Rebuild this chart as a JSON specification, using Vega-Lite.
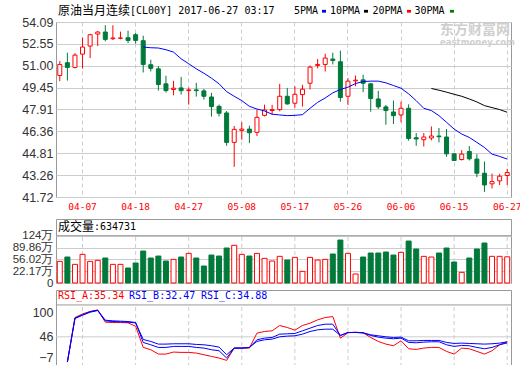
{
  "$schema": "https://vega.github.io/schema/vega-lite/v6.json",
  "background": "white",
  "padding": {"left": 0, "top": 4, "right": 0, "bottom": 0},
  "spacing": 0,
  "resolve": {"scale": {"x": "independent", "y": "independent"}},
  "config": {
    "view": {"stroke": "#999999", "strokeWidth": 1},
    "axis": {"labelFont": "Liberation Sans", "labelFontSize": 12.5, "labelColor": "#333333", "domain": false, "ticks": false, "title": null}
  },
  "datasets": {
    "k": [
      {"d":"04-04","o":50.31,"h":51.33,"l":49.91,"c":51.09,"v":50.45},
      {"d":"04-05","o":51.21,"h":51.92,"l":49.95,"c":50.88,"v":62.82,"ra":-10,"rb":-10,"rc":-10},
      {"d":"04-06","o":50.88,"h":51.89,"l":50.81,"c":51.75,"v":41.81,"ra":88.85,"rb":87.37,"rc":86.64},
      {"d":"04-07","o":51.82,"h":52.98,"l":50.81,"c":52.32,"v":70.48,"ra":96.96,"rb":94.75,"rc":94.01},
      {"d":"04-10","o":52.39,"h":53.26,"l":51.54,"c":53.19,"v":50.45,"ra":102.12,"rb":102.12,"rc":100.65},
      {"d":"04-11","o":53.24,"h":53.45,"l":52.39,"c":53.38,"v":53.3,"ra":105.81,"rb":105.08,"rc":104.34},
      {"d":"04-12","o":53.38,"h":53.86,"l":52.72,"c":52.86,"v":59.97,"ra":78.52,"rb":82.95,"rc":81.47},
      {"d":"04-13","o":52.91,"h":53.86,"l":52.82,"c":52.96,"v":41.81,"ra":77.79,"rb":81.47,"rc":80.0},
      {"d":"04-14","o":52.94,"h":53.41,"l":52.86,"c":52.96,"v":41.81,"ra":77.79,"rb":80.74,"rc":79.26},
      {"d":"04-17","o":52.98,"h":53.48,"l":52.6,"c":52.79,"v":31.3,"ra":77.05,"rb":80.0,"rc":78.52},
      {"d":"04-18","o":53.19,"h":53.31,"l":52.56,"c":52.79,"v":45.64,"ra":69.67,"rb":77.79,"rc":77.05},
      {"d":"04-19","o":52.77,"h":53.12,"l":50.52,"c":51.09,"v":80.0,"ma":52.32,"ra":22.47,"rb":33.54,"rc":40.17},
      {"d":"04-20","o":51.07,"h":51.42,"l":50.59,"c":50.81,"v":59.97,"ma":52.27,"ra":17.31,"rb":28.37,"rc":35.75},
      {"d":"04-21","o":50.78,"h":50.97,"l":49.24,"c":49.67,"v":65.66,"ma":52.25,"ra":7.72,"rb":22.47,"rc":29.85},
      {"d":"04-24","o":49.72,"h":50.29,"l":49.1,"c":49.24,"v":51.33,"ma":52.13,"ra":7.72,"rb":22.47,"rc":29.85},
      {"d":"04-25","o":49.32,"h":49.93,"l":48.91,"c":49.41,"v":56.14,"ma":51.96,"ra":12.15,"rb":24.68,"rc":30.58},
      {"d":"04-26","o":49.43,"h":50.21,"l":48.96,"c":49.24,"v":62.82,"ma":51.49,"ra":11.41,"rb":24.68,"rc":30.58},
      {"d":"04-27","o":49.24,"h":49.46,"l":48.25,"c":49.29,"v":73.32,"ma":51.14,"ra":11.41,"rb":24.68,"rc":30.58},
      {"d":"04-28","o":49.29,"h":49.79,"l":48.82,"c":49.24,"v":59.97,"ma":50.78,"ra":9.94,"rb":22.47,"rc":29.11},
      {"d":"05-01","o":49.22,"h":49.36,"l":48.61,"c":48.84,"v":36.99,"ma":50.47,"ra":6.25,"rb":21.0,"rc":28.37},
      {"d":"05-02","o":48.79,"h":49.08,"l":47.4,"c":48.11,"v":68.51,"ma":50.12,"ra":2.56,"rb":17.31,"rc":26.16},
      {"d":"05-03","o":48.13,"h":48.25,"l":47.42,"c":47.64,"v":65.66,"ma":49.72,"ra":-1.13,"rb":15.1,"rc":23.21},
      {"d":"05-04","o":47.66,"h":47.8,"l":45.34,"c":45.58,"v":88.64,"ma":49.17,"ra":-6.29,"rb":-1.13,"rc":6.25},
      {"d":"05-05","o":45.58,"h":46.74,"l":43.85,"c":46.5,"v":96.3,"ma":48.84,"ra":21.0,"rb":21.0,"rc":21.0},
      {"d":"05-08","o":46.43,"h":47.0,"l":45.77,"c":46.52,"v":70.48,"ma":48.53,"ra":21.0,"rb":21.0,"rc":21.0},
      {"d":"05-09","o":46.52,"h":46.76,"l":45.53,"c":46.26,"v":65.66,"ma":48.13,"ra":21.0,"rb":22.47,"rc":22.47},
      {"d":"05-10","o":46.29,"h":47.9,"l":46.03,"c":47.35,"v":73.32,"ma":47.94,"ra":54.19,"rb":39.44,"rc":35.75},
      {"d":"05-11","o":47.49,"h":48.25,"l":47.42,"c":47.87,"v":58.99,"ma":47.8,"ra":57.87,"rb":43.12,"rc":39.44},
      {"d":"05-12","o":47.83,"h":48.23,"l":47.54,"c":47.9,"v":51.33,"ma":47.57,"ra":59.35,"rb":44.6,"rc":40.91},
      {"d":"05-15","o":47.9,"h":49.72,"l":47.78,"c":48.84,"v":64.79,"ma":47.52,"ra":71.15,"rb":51.97,"rc":46.07},
      {"d":"05-16","o":48.84,"h":49.43,"l":48.25,"c":48.3,"v":54.17,"ma":47.47,"ra":66.72,"rb":52.71,"rc":47.55},
      {"d":"05-17","o":48.35,"h":49.55,"l":48.04,"c":48.98,"v":61.83,"ma":47.49,"ra":60.82,"rb":53.45,"rc":48.29},
      {"d":"05-18","o":48.96,"h":49.65,"l":48.11,"c":49.34,"v":21.78,"ma":47.54,"ra":71.15,"rb":59.35,"rc":51.97},
      {"d":"05-19","o":49.76,"h":51.02,"l":49.32,"c":50.9,"v":61.83,"ma":47.99,"ra":76.31,"rb":65.25,"rc":57.87},
      {"d":"05-22","o":51.02,"h":51.47,"l":50.81,"c":51.09,"v":54.17,"ma":48.41,"ra":83.69,"rb":71.15,"rc":61.56},
      {"d":"05-23","o":51.09,"h":51.85,"l":50.59,"c":51.54,"v":56.14,"ma":48.72,"ra":88.85,"rb":74.1,"rc":63.04},
      {"d":"05-24","o":51.47,"h":51.92,"l":51.09,"c":51.37,"v":71.46,"ma":49.08,"ra":91.06,"rb":74.1,"rc":63.04},
      {"d":"05-25","o":51.28,"h":52.06,"l":48.46,"c":48.75,"v":111.51,"ma":49.32,"ra":43.12,"rb":49.02,"rc":49.02},
      {"d":"05-26","o":48.84,"h":50.12,"l":48.23,"c":49.91,"v":73.32,"ma":49.48,"ra":54.92,"rb":55.66,"rc":55.66},
      {"d":"05-29","o":49.93,"h":50.31,"l":49.55,"c":49.98,"v":14.12,"ma":49.74,"ra":56.4,"rb":55.66,"rc":55.66},
      {"d":"05-30","o":50.0,"h":50.36,"l":49.13,"c":49.76,"v":62.82,"ma":49.88,"ra":54.92,"rb":54.92,"rc":54.92},
      {"d":"05-31","o":49.72,"h":49.79,"l":47.75,"c":48.68,"v":74.3,"ma":49.91,"ra":44.6,"rb":49.02,"rc":50.5},
      {"d":"06-01","o":48.65,"h":49.22,"l":47.94,"c":48.09,"v":74.3,"ma":49.91,"ra":35.75,"rb":45.34,"rc":48.29},
      {"d":"06-02","o":48.09,"h":48.23,"l":46.83,"c":47.83,"v":77.15,"ma":49.79,"ra":29.85,"rb":43.12,"rc":46.07},
      {"d":"06-05","o":47.73,"h":48.54,"l":46.88,"c":47.47,"v":68.51,"ma":49.6,"ra":26.16,"rb":41.64,"rc":44.6},
      {"d":"06-06","o":47.52,"h":48.46,"l":47.0,"c":47.99,"v":76.16,"ma":49.41,"ra":37.22,"rb":43.12,"rc":45.34},
      {"d":"06-07","o":47.99,"h":48.27,"l":45.7,"c":45.86,"v":108.66,"ma":49.01,"ra":19.52,"rb":33.54,"rc":37.22},
      {"d":"06-08","o":45.91,"h":46.24,"l":45.34,"c":45.82,"v":85.79,"ma":48.53,"ra":18.05,"rb":32.8,"rc":37.22},
      {"d":"06-09","o":45.77,"h":46.24,"l":45.29,"c":45.96,"v":64.79,"ma":47.99,"ra":21.0,"rb":34.27,"rc":37.96},
      {"d":"06-12","o":45.89,"h":46.71,"l":45.72,"c":46.03,"v":62.82,"ma":47.83,"mb":49.39,"ra":22.47,"rb":35.01,"rc":37.96},
      {"d":"06-13","o":46.03,"h":46.6,"l":45.58,"c":45.98,"v":74.3,"ma":47.47,"mb":49.27,"ra":22.47,"rb":35.01,"rc":37.96},
      {"d":"06-14","o":45.96,"h":46.52,"l":44.56,"c":44.77,"v":88.64,"ma":47.0,"mb":49.13,"ra":13.62,"rb":28.37,"rc":33.54},
      {"d":"06-15","o":44.77,"h":44.82,"l":44.28,"c":44.3,"v":48.48,"ma":46.52,"mb":48.98,"ra":7.72,"rb":24.68,"rc":31.32},
      {"d":"06-19","o":44.37,"h":45.03,"l":44.3,"c":44.75,"v":18.83,"ma":46.17,"mb":48.84,"ra":21.0,"rb":26.9,"rc":32.06},
      {"d":"06-20","o":44.94,"h":45.32,"l":44.3,"c":44.42,"v":59.97,"ma":45.93,"mb":48.65,"ra":19.52,"rb":26.16,"rc":31.32},
      {"d":"06-21","o":44.4,"h":44.75,"l":43.12,"c":43.4,"v":85.79,"ma":45.58,"mb":48.44,"ra":13.62,"rb":22.47,"rc":30.58},
      {"d":"06-22","o":43.4,"h":44.23,"l":42.08,"c":42.57,"v":102.97,"ma":45.22,"mb":48.18,"ra":7.72,"rb":19.52,"rc":29.85},
      {"d":"06-23","o":42.65,"h":43.38,"l":42.32,"c":42.81,"v":64.79,"ma":44.75,"mb":48.04,"ra":15.1,"rb":22.47,"rc":30.58},
      {"d":"06-26","o":42.86,"h":43.36,"l":42.57,"c":43.19,"v":64.79,"ma":44.59,"mb":47.9,"ra":28.37,"rb":28.37,"rc":32.06},
      {"d":"06-27","o":43.24,"h":43.71,"l":42.57,"c":43.45,"v":63.47,"ma":44.4,"mb":47.71,"ra":35.34,"rb":32.47,"rc":34.88}
    ],
    "t": [{"d":"04-07"},{"d":"04-18"},{"d":"04-27"},{"d":"05-08"},{"d":"05-17"},{"d":"05-26"},{"d":"06-06"},{"d":"06-15"},{"d":"06-27"}],
    "one": [{}]
  },
  "vconcat": [
    {
      "width": 455,
      "height": 175,
      "resolve": {"axis": {"x": "independent", "y": "independent"}},
      "layer": [
        {
          "data": {"name": "k"},
          "mark": {"type": "rule", "strokeWidth": 1},
          "encoding": {
            "x": {"field": "d", "type": "ordinal", "scale": {"paddingInner": 0, "paddingOuter": 0},
                  "axis": {"values": ["04-07","04-18","04-27","05-08","05-17","05-26","06-06","06-15","06-27"], "labelAngle": 0, "labelColor": "#ff0000", "labelFont": "DejaVu Sans Mono", "labelFontSize": 9.5, "labelPadding": 4, "labelBaseline": "top", "labelOverlap": false, "grid": true, "gridColor": "#cccccc", "gridDash": [4, 3], "bandPosition": 0.5, "minExtent": 20.3, "maxExtent": 20.3}},
            "y": {"field": "l", "type": "quantitative", "scale": {"domain": [41.72, 54.09], "nice": false, "zero": false},
                  "axis": {"values": [41.72,43.26,44.81,46.36,47.91,49.45,51.0,52.55,54.09], "format": ".2f", "labelOverlap": false, "labelSeparation": 0, "grid": true, "gridColor": "#cccccc", "labelPadding": 3, "minExtent": 55, "maxExtent": 55}},
            "y2": {"field": "h"},
            "stroke": {"condition": {"test": "datum.c >= datum.o", "value": "#ff0000"}, "value": "#00793a"}
          }
        },
        {
          "data": {"name": "k"},
          "mark": {"type": "bar", "width": 4, "strokeWidth": 1},
          "encoding": {
            "x": {"field": "d", "type": "ordinal", "axis": null},
            "y": {"field": "o", "type": "quantitative", "axis": null},
            "y2": {"field": "c"},
            "fill": {"condition": {"test": "datum.c >= datum.o", "value": "#ffffff"}, "value": "#00793a"},
            "stroke": {"condition": {"test": "datum.c >= datum.o", "value": "#ff0000"}, "value": "#00793a"}
          }
        },
        {
          "data": {"name": "k"},
          "mark": {"type": "line", "stroke": "#0000ff", "strokeWidth": 1},
          "encoding": {
            "x": {"field": "d", "type": "ordinal", "axis": null},
            "y": {"field": "ma", "type": "quantitative", "axis": null}
          }
        },
        {
          "data": {"name": "k"},
          "mark": {"type": "line", "stroke": "#000000", "strokeWidth": 1},
          "encoding": {
            "x": {"field": "d", "type": "ordinal", "axis": null},
            "y": {"field": "mb", "type": "quantitative", "axis": null}
          }
        },
        {
          "data": {"name": "one"},
          "mark": {"type": "text", "align": "left", "baseline": "middle", "font": "Noto Sans CJK SC", "fontSize": 12, "fill": "#000000", "text": "原油当月连续"},
          "encoding": {
            "x": {"datum": "04-04", "type": "ordinal", "bandPosition": 0.26, "axis": null},
            "y": {"datum": 54.85, "type": "quantitative", "axis": null}
          }
        },
        {
          "data": {"name": "one"},
          "mark": {"type": "text", "align": "left", "baseline": "middle", "font": "DejaVu Sans Mono", "fontSize": 10, "fill": "#000000", "text": "[CL00Y] 2017-06-27 03:17"},
          "encoding": {
            "x": {"datum": "04-17", "type": "ordinal", "bandPosition": 0.76, "axis": null},
            "y": {"datum": 54.85, "type": "quantitative", "axis": null}
          }
        },
        {
          "data": {"name": "one"},
          "mark": {"type": "text", "align": "left", "baseline": "middle", "font": "DejaVu Sans Mono", "fontSize": 10, "fill": "#000000", "text": "5PMA"},
          "encoding": {
            "x": {"datum": "05-17", "type": "ordinal", "bandPosition": 0.39, "axis": null},
            "y": {"datum": 54.85, "type": "quantitative", "axis": null}
          }
        },
        {
          "data": {"name": "one"},
          "mark": {"type": "text", "align": "left", "baseline": "middle", "font": "DejaVu Sans Mono", "fontSize": 10, "fill": "#000000", "text": "10PMA"},
          "encoding": {
            "x": {"datum": "05-24", "type": "ordinal", "bandPosition": 0.13, "axis": null},
            "y": {"datum": 54.85, "type": "quantitative", "axis": null}
          }
        },
        {
          "data": {"name": "one"},
          "mark": {"type": "text", "align": "left", "baseline": "middle", "font": "DejaVu Sans Mono", "fontSize": 10, "fill": "#000000", "text": "20PMA"},
          "encoding": {
            "x": {"datum": "05-31", "type": "ordinal", "bandPosition": 0.74, "axis": null},
            "y": {"datum": 54.85, "type": "quantitative", "axis": null}
          }
        },
        {
          "data": {"name": "one"},
          "mark": {"type": "text", "align": "left", "baseline": "middle", "font": "DejaVu Sans Mono", "fontSize": 10, "fill": "#000000", "text": "30PMA"},
          "encoding": {
            "x": {"datum": "06-08", "type": "ordinal", "bandPosition": 0.28, "axis": null},
            "y": {"datum": 54.85, "type": "quantitative", "axis": null}
          }
        },
        {
          "data": {"name": "one"},
          "mark": {"type": "point", "shape": "M-1,-0.7H1V0.7H-1Z", "size": 16, "filled": true, "fill": "#0000ff", "opacity": 1},
          "encoding": {
            "x": {"datum": "05-23", "type": "ordinal", "bandPosition": 0.34, "axis": null},
            "y": {"datum": 54.85, "type": "quantitative", "axis": null}
          }
        },
        {
          "data": {"name": "one"},
          "mark": {"type": "point", "shape": "M-1,-0.7H1V0.7H-1Z", "size": 16, "filled": true, "fill": "#000000", "opacity": 1},
          "encoding": {
            "x": {"datum": "05-30", "type": "ordinal", "bandPosition": 0.88, "axis": null},
            "y": {"datum": 54.85, "type": "quantitative", "axis": null}
          }
        },
        {
          "data": {"name": "one"},
          "mark": {"type": "point", "shape": "M-1,-0.7H1V0.7H-1Z", "size": 16, "filled": true, "fill": "#ff0000", "opacity": 1},
          "encoding": {
            "x": {"datum": "06-07", "type": "ordinal", "bandPosition": 0.55, "axis": null},
            "y": {"datum": 54.85, "type": "quantitative", "axis": null}
          }
        },
        {
          "data": {"name": "one"},
          "mark": {"type": "point", "shape": "M-1,-0.7H1V0.7H-1Z", "size": 16, "filled": true, "fill": "#008000", "opacity": 1},
          "encoding": {
            "x": {"datum": "06-15", "type": "ordinal", "bandPosition": 0.22, "axis": null},
            "y": {"datum": 54.85, "type": "quantitative", "axis": null}
          }
        },
        {
          "data": {"name": "one"},
          "mark": {"type": "text", "align": "left", "baseline": "middle", "font": "Noto Sans CJK SC", "fontSize": 14, "fontWeight": "bold", "fill": "#cfcfcf", "text": "东方财富网"},
          "encoding": {
            "x": {"datum": "06-13", "type": "ordinal", "bandPosition": 0.64, "axis": null},
            "y": {"datum": 53.54, "type": "quantitative", "axis": null}
          }
        },
        {
          "data": {"name": "one"},
          "mark": {"type": "text", "align": "left", "baseline": "middle", "font": "DejaVu Sans", "fontSize": 8.5, "fontWeight": "bold", "fill": "#cfcfcf", "text": "eastmoney.com"},
          "encoding": {
            "x": {"datum": "06-13", "type": "ordinal", "bandPosition": 0.64, "axis": null},
            "y": {"datum": 52.69, "type": "quantitative", "axis": null}
          }
        }
      ]
    },
    {
      "width": 455,
      "height": 64,
      "resolve": {"axis": {"x": "independent", "y": "independent"}},
      "layer": [
        {
          "data": {"name": "t"},
          "mark": {"type": "rule", "stroke": "#cccccc", "strokeDash": [4, 3], "strokeWidth": 1},
          "encoding": {
            "x": {"field": "d", "type": "ordinal", "scale": {"paddingInner": 0, "paddingOuter": 0}, "axis": null},
            "y": {"datum": -11.7, "type": "quantitative", "scale": {"domain": [-11.7, 171.9], "nice": false, "zero": false},
                  "axis": {"values": [-11.7, 22.17, 56.02, 89.86, 124], "labelExpr": "datum.value < 0 ? '0' : (datum.value == 124 ? '124万' : format(datum.value, '.2f') + '万')", "labelFontSize": 11.5, "labelOverlap": false, "labelSeparation": 0, "grid": true, "gridColor": "#cccccc", "labelPadding": 3, "minExtent": 55, "maxExtent": 55}},
            "y2": {"datum": 124}
          }
        },
        {
          "data": {"name": "k"},
          "mark": {"type": "bar", "width": 5, "strokeWidth": 1},
          "encoding": {
            "x": {"field": "d", "type": "ordinal", "axis": null},
            "y": {"field": "v", "type": "quantitative", "stack": null, "axis": null},
            "y2": {"datum": -11.7},
            "fill": {"condition": {"test": "datum.c >= datum.o", "value": "#ffffff"}, "value": "#00793a"},
            "stroke": {"condition": {"test": "datum.c >= datum.o", "value": "#ff0000"}, "value": "#00793a"}
          }
        },
        {
          "data": {"name": "one"},
          "mark": {"type": "rule", "stroke": "#999999", "strokeWidth": 1},
          "encoding": {"y": {"datum": 124, "type": "quantitative", "axis": null}}
        },
        {
          "data": {"name": "one"},
          "mark": {"type": "text", "align": "left", "baseline": "middle", "font": "Noto Sans CJK SC", "fontSize": 12, "fill": "#000000", "text": "成交量"},
          "encoding": {
            "x": {"datum": "04-04", "type": "ordinal", "bandPosition": 0.26, "axis": null},
            "y": {"datum": 149, "type": "quantitative", "axis": null}
          }
        },
        {
          "data": {"name": "one"},
          "mark": {"type": "text", "align": "left", "baseline": "middle", "font": "DejaVu Sans Mono", "fontSize": 10, "fill": "#000000", "text": ":634731"},
          "encoding": {
            "x": {"datum": "04-11", "type": "ordinal", "bandPosition": 0.01, "axis": null},
            "y": {"datum": 149, "type": "quantitative", "axis": null}
          }
        }
      ]
    },
    {
      "width": 455,
      "height": 77,
      "resolve": {"axis": {"x": "independent", "y": "independent"}},
      "layer": [
        {
          "data": {"name": "t"},
          "mark": {"type": "rule", "stroke": "#cccccc", "strokeDash": [4, 3], "strokeWidth": 1},
          "encoding": {
            "x": {"field": "d", "type": "ordinal", "scale": {"paddingInner": 0, "paddingOuter": 0}, "axis": null},
            "y": {"datum": -21, "type": "quantitative", "scale": {"domain": [-21, 150], "nice": false, "zero": false},
                  "axis": {"values": [-7, 46, 100], "format": "d", "labelOverlap": false, "labelSeparation": 0, "grid": false, "labelPadding": 3, "minExtent": 55, "maxExtent": 55,
                           "labelOffset": {"condition": {"test": "datum.value < 0", "value": -3}, "value": 0}}},
            "y2": {"datum": 116.8}
          }
        },
        {
          "data": {"name": "one"},
          "mark": {"type": "rule", "stroke": "#cccccc", "strokeWidth": 1},
          "encoding": {"y": {"datum": 46, "type": "quantitative", "axis": null}}
        },
        {
          "data": {"name": "one"},
          "mark": {"type": "rule", "stroke": "#999999", "strokeWidth": 1},
          "encoding": {"y": {"datum": 116.8, "type": "quantitative", "axis": null}}
        },
        {
          "data": {"name": "k"},
          "mark": {"type": "line", "stroke": "#ff0000", "strokeWidth": 1},
          "encoding": {
            "x": {"field": "d", "type": "ordinal", "axis": null},
            "y": {"field": "ra", "type": "quantitative", "axis": null}
          }
        },
        {
          "data": {"name": "k"},
          "mark": {"type": "line", "stroke": "#0000ff", "strokeWidth": 1},
          "encoding": {
            "x": {"field": "d", "type": "ordinal", "axis": null},
            "y": {"field": "rc", "type": "quantitative", "axis": null}
          }
        },
        {
          "data": {"name": "k"},
          "mark": {"type": "line", "stroke": "#0000ff", "strokeWidth": 1},
          "encoding": {
            "x": {"field": "d", "type": "ordinal", "axis": null},
            "y": {"field": "rb", "type": "quantitative", "axis": null}
          }
        },
        {
          "data": {"name": "one"},
          "mark": {"type": "text", "align": "left", "baseline": "middle", "font": "DejaVu Sans Mono", "fontSize": 10, "fill": "#ff0000", "text": "RSI_A:35.34"},
          "encoding": {
            "x": {"datum": "04-04", "type": "ordinal", "bandPosition": 0.26, "axis": null},
            "y": {"datum": 137, "type": "quantitative", "axis": null}
          }
        },
        {
          "data": {"name": "one"},
          "mark": {"type": "text", "align": "left", "baseline": "middle", "font": "DejaVu Sans Mono", "fontSize": 10, "fill": "#0000ff", "text": "RSI_B:32.47"},
          "encoding": {
            "x": {"datum": "04-17", "type": "ordinal", "bandPosition": 0.63, "axis": null},
            "y": {"datum": 137, "type": "quantitative", "axis": null}
          }
        },
        {
          "data": {"name": "one"},
          "mark": {"type": "text", "align": "left", "baseline": "middle", "font": "DejaVu Sans Mono", "fontSize": 10, "fill": "#0000ff", "text": "RSI_C:34.88"},
          "encoding": {
            "x": {"datum": "05-01", "type": "ordinal", "bandPosition": 0.12, "axis": null},
            "y": {"datum": 137, "type": "quantitative", "axis": null}
          }
        }
      ]
    }
  ]
}
